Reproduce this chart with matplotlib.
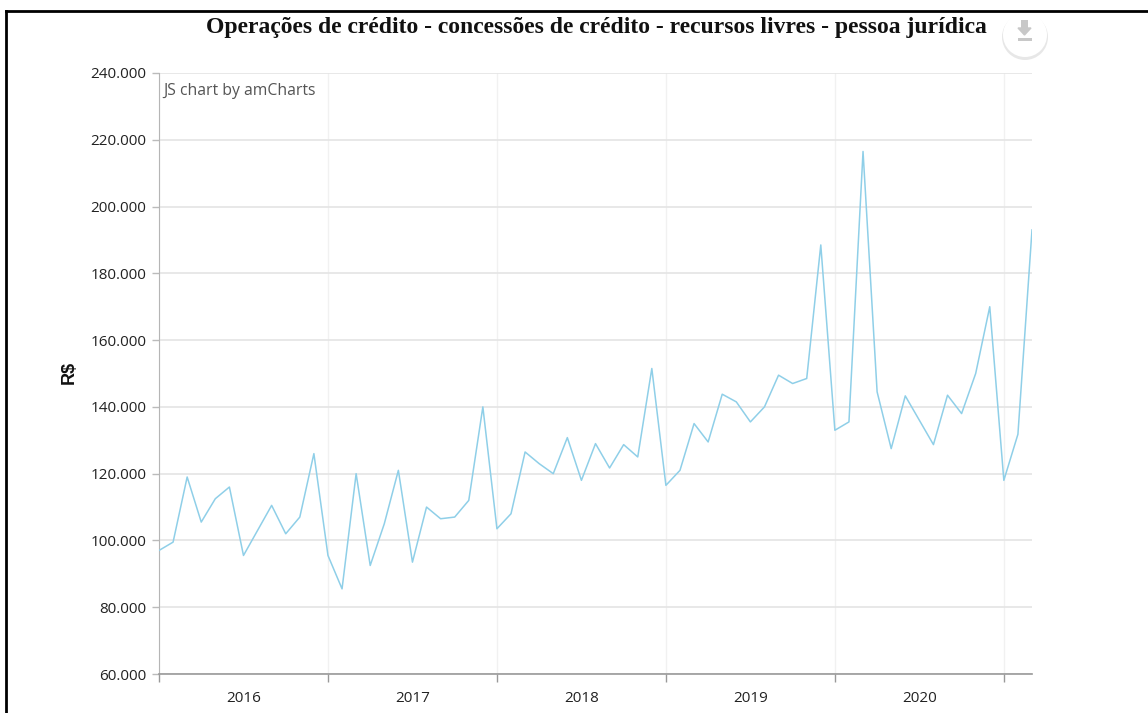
import matplotlib
matplotlib.use("Agg")
import matplotlib.pyplot as plt
from matplotlib.patches import Circle, Rectangle

# monthly values, thousands of R$, jan/2016 onwards
values = [97, 99.5, 119, 105.5, 112.5, 116, 95.5, 103, 110.5, 102, 107, 126,
          95.5, 85.5, 120, 92.5, 105, 121, 93.5, 110, 106.5, 107, 112, 140,
          103.5, 108, 126.5, 123, 120, 130.8, 118, 129, 121.7, 128.7, 125, 151.5,
          116.5, 121, 135, 129.5, 143.8, 141.5, 135.5, 140, 149.5, 147, 148.5, 188.5,
          133, 135.5, 216.5, 144.5, 127.5, 143.3, 136, 128.7, 143.5, 138, 150, 170,
          118, 131.8, 193]
years = ["2016", "2017", "2018", "2019", "2020"]
y_ticks = [60, 80, 100, 120, 140, 160, 180, 200, 220, 240]
title = "Operações de crédito - concessões de crédito - recursos livres - pessoa jurídica"

W, H = 1148, 713
fig = plt.figure(figsize=(W / 100, H / 100), dpi=100)
ax = fig.add_axes([159 / W, 1 - 674 / H, (1032 - 159) / W, (674 - 73) / H])

months = list(range(len(values)))
ax.plot(months, values, color="#8fcfe8", lw=1.1, clip_on=True, zorder=3)
ax.set_xlim(0, 62)
ax.set_ylim(60, 240)

year_ticks = [12 * i for i in range(6)]
ax.set_xticks(year_ticks)
ax.set_xticklabels([])
ax.set_yticks(y_ticks)
ax.set_yticklabels([f"{v}.000" for v in y_ticks], fontsize=11, color="#222222",
                   fontname="Open Sans")
ax.tick_params(axis="y", length=5, color="#bbbbbb", width=1, pad=4)
ax.tick_params(axis="x", length=6, color="#999999", width=1)
ax.grid(axis="y", color="#e4e4e4", lw=1.2)
ax.grid(axis="x", color="#f1f1f1", lw=1)
ax.set_axisbelow(True)

for side in ["top", "right"]:
    ax.spines[side].set_visible(False)
ax.spines["left"].set_color("#b5b5b5")
ax.spines["bottom"].set_color("#999999")
ax.spines["bottom"].set_linewidth(1.2)

# year labels sit between the ticks
for i, yr in enumerate(years):
    ax.annotate(yr, xy=(12 * i + 6, 60), xytext=(0, -23), textcoords="offset points",
                ha="center", va="bottom", fontsize=11, color="#222222", fontname="Open Sans",
                annotation_clip=False)

fig.text(69 / W, 1 - 372 / H, "R$", rotation=90, ha="center", va="center",
         fontsize=13, fontweight="bold", color="#111111", fontname="Liberation Sans")
fig.text(596 / W, 1 - 27 / H, title, ha="center", va="center", fontsize=17,
         fontweight="bold", color="#111111", fontname="Liberation Serif")
fig.text(163 / W, 1 - 91 / H, "JS chart by amCharts", ha="left", va="center",
         fontsize=11.3, color="#555555", fontname="Open Sans")

# export button and screenshot frame, in figure pixels
overlay = fig.add_axes([0, 0, 1, 1], facecolor="none")
overlay.set_xlim(0, W)
overlay.set_ylim(H, 0)
overlay.axis("off")
overlay.add_patch(Circle((1025, 37), 23, fc="#dddddd", ec="none", alpha=0.7))
overlay.add_patch(Circle((1025, 35), 22, fc="white", ec="none"))
overlay.add_patch(Rectangle((1021, 20), 7, 9, fc="#c8c8c8", ec="none"))
overlay.fill([1018, 1031, 1024.5], [28, 28, 35], color="#c8c8c8")
overlay.add_patch(Rectangle((1018, 38), 14, 2.5, fc="#c8c8c8", ec="none"))
overlay.add_patch(Rectangle((0, 0), W, 11, fc="white", ec="none"))
overlay.plot([6, 6], [11, H], color="black", lw=2)
overlay.plot([6, W], [11, 11], color="black", lw=2)

fig.savefig("out.png", dpi=100)
